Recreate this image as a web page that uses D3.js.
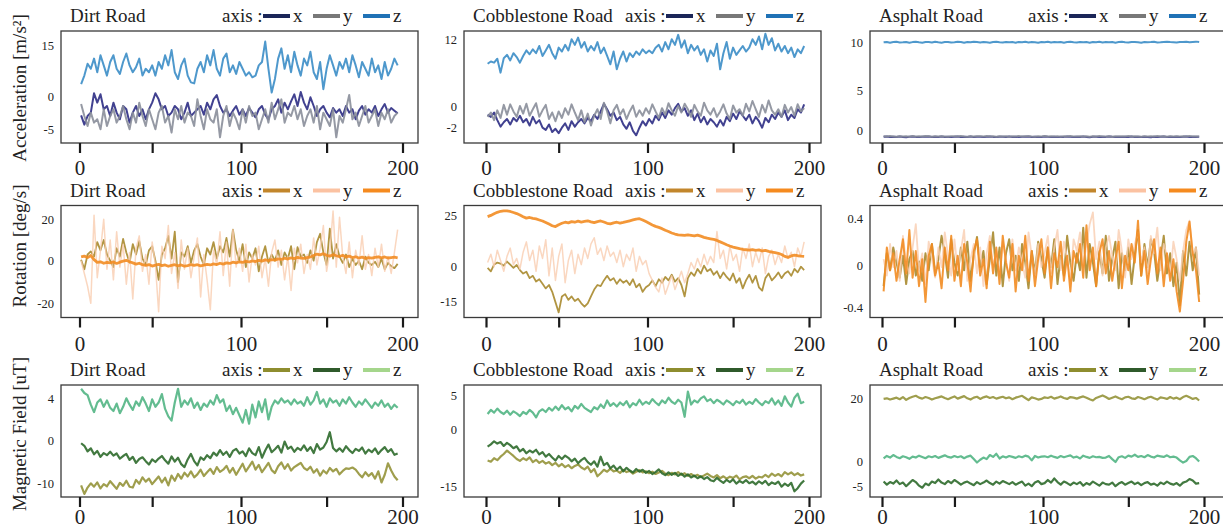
<!DOCTYPE html>
<html>
<head>
<meta charset="utf-8">
<script src="https://cdn.jsdelivr.net/npm/d3@7"></script>
<style>
  body { margin: 0; background: #fff; }
  svg text { font-family: "Liberation Serif", "DejaVu Serif", serif; fill: #222; }
</style>
</head>
<body>
<svg id="chart" width="1223" height="529"></svg>
<script>
// ---- labels ----
const roads = ["Dirt Road", "Cobblestone Road", "Asphalt Road"];
const quantities = ["Acceleration [m/s²]", "Rotation [deg/s]", "Magnetic Field [uT]"];
const axisNames = ["x", "y", "z"];
const xTickValues = [0, 45, 100, 153, 200];
const xTickLabels = ["0", "", "100", "", "200"];

// y tick labels of each panel (row by row)
const accDirtTicks = [15, 0, -5];
const accCobbleTicks = [12, 0, -2];
const accAsphaltTicks = [10, 5, 0];
const rotDirtTicks = [20, 0, -20];
const rotCobbleTicks = [25, 0, -15];
const rotAsphaltTicks = [0.4, 0, -0.4];
const magDirtTicks = [4, 0, -10];
const magCobbleTicks = [5, 0, -15];
const magAsphaltTicks = [20, 0, -5];

// ---- sensor readings, every second sample (samples 1, 3, ..., 197) ----
const accDirtX = [
-2.9,-4.3,-3,-2.5,0.8,-1,0.5,-2,-1.5,-3,
-1,-2.5,-3.5,-1.5,-2,-4,-2.5,-1.5,-3,-2,
-3.5,-2,-1,0.8,-0.5,-2,-1.5,-3,-2.5,-1.5,
-2,-3.5,-2.5,-1,-3,-2.5,-2,-1.5,-2.8,-1,
-2,-0.5,0.3,-1.5,-2.5,-2,-3,-2.2,-1.5,-2.8,
-2,-3,-1.8,-2.5,-3.2,-2,-1.5,-2.8,-3.5,-2,
-1.5,-0.5,-2.5,-1,-2,-0.8,0.5,-1.5,1.2,-1,
-2,-0.2,-1.5,-3,-2,-1.5,-2.5,-3.2,-1.8,-2.5,
-2,-3,-1.5,-2.5,-2,-3.5,-2.2,-1.5,-2.8,-2,
-2.5,-1.5,-3,-2,-1.2,-2.5,-1.8,-2.2,-2.6];
const accDirtY = [
-1.2,-3,-4.5,-2.5,-4,-3.5,-5,-2,-4.5,-3,
-2,-4,-3,-1.5,-3.5,-5,-2.5,-4,-1,-3,
-4.5,-2,-3.5,-5,-2.5,-1.5,-4,-3,-5.5,-2,
-3.5,-1.5,-4,-2.5,-3,-4.5,-0.5,-3,-5,-2,
-3.5,-4,-2,-6.2,-3,-1.5,-4.5,-2.5,-3.5,-5,
-2,-4,-1.5,-3,-2.5,-5,-3.5,-2,-4,-1,
-3.5,-2,-0.5,-4,-2.5,-3,-1.5,-3.5,-2,-4.5,
-3,-2,-4,-1.5,-5,-2.5,-3.5,-4.5,-2,-6.2,
-3,-4,-2,0.3,-3.5,-2.5,-4.5,-3,-1.5,-4,
-3,-2,-4.5,-2.5,-3.5,-2,-4,-3,-2.5];
const accDirtZ = [
3.5,6,9.5,8,11,7,12,9,6,10,
12,8,6.5,10,12.5,9,7,8.5,11,6,
8,7,9,6,10,8,12,9,13.5,7,
5,9,11,6,4,3.7,8,10,7,12,
9,13.5,8,6,11,12.5,7,9,6.5,10,
8,6,7,5.5,6,9,10,16,8,1,
5,11,14,8,12,7,13,9,6,11,
9,13,7,5,10,2,8,12,9,6,
10,8,11,7,12,9,5.5,10,8,6,
11,7,9,5,10,6,8,11,9];

const accCobbleX = [
-0.8,-1,-0.6,-1.3,-1.9,-1.5,-1.2,-1.7,-1.1,-1.4,
-0.9,-1.5,-1.2,-1.8,-1,-1.6,-1.3,-2,-2.2,-1.7,
-2.4,-2.1,-2.5,-2,-1.6,-2.2,-1.4,-1.9,-1.5,-1.2,
-1.6,-1.1,-1.4,-0.8,-1.2,-0.5,0.4,-0.3,-0.9,-0.6,
-1.3,-1,-1.7,-2.1,-1.5,-2.3,-2.7,-2,-1.4,-1.8,
-1.2,-1.6,-0.9,-1.3,-0.6,-1.1,-0.4,-0.8,-0.2,0.4,
-0.5,-0.2,-0.9,-0.4,-1.3,-0.7,-1.5,-1,-1.7,-1.2,
-1.5,-1.9,-1.3,-1.8,-1,-1.4,-0.7,-1.2,-0.5,-0.9,
-1.3,-0.8,-1.6,-1,-1.4,-2,-1.1,-1.5,-0.8,-1.2,
-0.6,-1,-0.4,-1.3,-0.8,-1.1,-0.3,-0.6,0.3];
const accCobbleY = [
-1,-0.6,-1.3,-0.4,-1.1,0.2,-0.8,0.3,-0.5,-1,
0,-0.7,0.4,-0.9,-0.3,0.5,-1,-0.4,0.2,-1.2,
-0.6,-1.4,-0.5,-1.1,-0.2,-0.8,0.3,-0.6,-1.3,-0.4,
-1.5,-0.7,-1.8,-0.9,-0.3,-1.2,0.6,-0.5,-1.6,-0.4,
0.2,-0.8,-0.3,-1.2,-0.5,0.1,-1,-0.4,-0.9,-0.2,
-0.7,0.3,-0.5,-1.1,-0.2,-0.8,0.5,-0.4,-0.9,0,
-0.6,0.4,-0.3,-1,0.2,-0.5,-0.9,0.6,-0.4,-0.8,
-0.2,-1,-0.5,0.3,-0.7,-1.2,0.1,-0.6,-0.3,-0.9,
0.4,-0.5,0.9,-0.3,-1,0.2,-0.6,1,-0.4,-0.8,
-0.3,-1,0.2,-0.6,-0.1,-0.9,0.3,-0.5,-0.2];
const accCobbleZ = [
7.6,8,7.8,8.5,6,8.6,9.2,8.2,9.5,8.8,
7.8,9,10,9.3,10.2,9.5,10.8,9,10,11,
9.5,8.5,10.5,9.8,11,10,12,11,12.3,10.5,
11.5,9.8,10.8,10,11.5,9.5,10.5,9,7.5,9.8,
6.6,8.5,9.8,8,9.5,8.8,9.8,9.2,10.2,9.5,
10,9.5,10.5,11,9.8,11.5,10.2,12,11,12.8,
10.5,11.8,9.5,11,10,10.8,9.2,10.2,8,10,
9,11.2,6.6,9.5,11.5,8.5,10.5,9.2,10,10.8,
9.8,10.5,12,11,12.5,10.2,13,11,12.2,10,
11.2,9.8,10.8,9.5,10.5,8.8,10.2,9.5,10.8];

const accAsphaltX = [
-0.85,-0.8,-0.88,-0.83,-0.87,-0.82,-0.86,-0.9,-0.84,-0.81,
-0.86,-0.89,-0.83,-0.85,-0.8,-0.87,-0.84,-0.88,-0.82,-0.86,
-0.83,-0.87,-0.85,-0.81,-0.88,-0.84,-0.86,-0.82,-0.89,-0.85,
-0.83,-0.87,-0.84,-0.8,-0.86,-0.88,-0.83,-0.85,-0.87,-0.82,
-0.86,-0.84,-0.89,-0.83,-0.85,-0.81,-0.87,-0.84,-0.88,-0.86,
-0.82,-0.85,-0.87,-0.83,-0.89,-0.84,-0.86,-0.81,-0.85,-0.88,
-0.84,-0.87,-0.82,-0.86,-0.9,-0.85,-0.83,-0.88,-0.84,-0.86,
-0.81,-0.85,-0.88,-0.83,-0.87,-0.84,-0.86,-0.82,-0.89,-0.85,
-0.87,-0.83,-0.86,-0.9,-0.84,-0.88,-0.85,-0.82,-0.87,-0.84,
-0.86,-0.83,-0.88,-0.85,-0.81,-0.87,-0.84,-0.86,-0.85];
const accAsphaltY = [
-0.78,-0.82,-0.76,-0.8,-0.84,-0.77,-0.81,-0.79,-0.83,-0.76,
-0.8,-0.78,-0.82,-0.75,-0.79,-0.83,-0.77,-0.81,-0.78,-0.8,
-0.84,-0.77,-0.79,-0.82,-0.76,-0.8,-0.83,-0.78,-0.81,-0.77,
-0.79,-0.82,-0.76,-0.8,-0.78,-0.83,-0.77,-0.81,-0.79,-0.84,
-0.78,-0.8,-0.76,-0.82,-0.79,-0.77,-0.81,-0.83,-0.78,-0.8,
-0.76,-0.82,-0.79,-0.8,-0.77,-0.83,-0.78,-0.81,-0.76,-0.8,
-0.82,-0.78,-0.8,-0.77,-0.83,-0.79,-0.81,-0.76,-0.8,-0.82,
-0.78,-0.84,-0.77,-0.8,-0.79,-0.82,-0.76,-0.81,-0.78,-0.8,
-0.83,-0.77,-0.8,-0.78,-0.82,-0.76,-0.81,-0.79,-0.84,-0.78,
-0.8,-0.77,-0.82,-0.79,-0.81,-0.76,-0.8,-0.78,-0.8];
const accAsphaltZ = [
10,10.04,9.96,10.02,10.05,9.98,10,10.04,9.95,10.02,
10.05,10,9.96,10.04,10.02,9.98,10.05,10,9.96,10.02,
10.04,9.98,10,10.05,10.02,9.96,10.04,10,10.06,10.02,
9.98,10.04,10,9.96,10.02,10.05,10,9.98,10.04,10,
10.02,9.96,10.04,10,10.05,9.98,10.02,10,9.96,10.04,
10,10.05,9.98,10.02,10,10.04,9.96,10.02,10.05,10,
9.98,10.04,10,10.02,9.96,10.04,10,10.05,9.98,10.02,
10,10.04,9.96,10.02,10.05,10,9.98,10.04,10.02,10,
9.96,10.04,10,10.02,10.05,9.98,10,10.04,10.06,10.02,
10,9.98,10.04,10.02,10.05,10,10.04,10.07,10.02];

const rotDirtX = [
0.5,-4,3,4.5,2,9,5,10,3,0,
-3,6,2,10.5,4,-1,8,3,9.5,1,
-2,5,7,0,-9,3,6,12,1,14,
-10,4,2,7,-1,5,8,2,-2,6,
3,9,1,7,4,11,2,15,5,0,
8,-3,4,1,6,-5,2,7,-1,3,
0,5,-2,4,1,7,-4,6.5,2,3,
-1,5,0,9,13,4,-2,15.5,1,8,
2,-1,3,-3,1,-2,0,-4,2,-1,
-2,-0.5,-3,1,-4,-1,-2.5,-3.5,-1.5];
const rotDirtY = [
0,-6,-12,-20,22,-8,5,20,-4,10,
-9,14,-3,8,-11,4,-18,6,12,-5,
3,-11,9,-2,-24,7,1,17,-6,4,
-13,10,-4,6,-8,2,11,-17,3,-9,
-23,5,-2,14,-7,9,-12,15,-3,6,
-5,8,-10,3,-2,7,-8,1,-12,4,
10,-3,5,-9,2,-14,6,-1,8,-6,
3,-4,11,-2,6,17,-5,4,24,-3,
21,2,-6,9,-8,5,-2,12,-4,3,
-7,6,-3,8,-5,2,-6,4,15];
const rotDirtZ = [
1.8,2.2,1.5,2.5,0.5,-0.8,-0.5,-1.2,-0.8,-1,
-0.6,-1.3,-0.7,-0.2,0.2,-0.5,-1,-1.6,-1.2,-1.9,
-2.2,-1.8,-2.5,-2.1,-1.7,-2.3,-2,-2.6,-2.2,-1.9,
-2.4,-2,-2.6,-2.3,-1.8,-2.2,-1.9,-2.4,-2.1,-1.7,
-2,-1.5,-1.8,-1.2,-1.6,-1,-1.3,-0.7,-1,-0.5,
-0.8,-0.3,-0.6,-0.1,-0.4,0.2,-0.2,0.4,0,0.5,
0.3,0.9,0.6,1.2,0.8,1.4,1,1.6,1.3,1.1,
1.5,1.8,2.5,3.2,2.8,3.4,2.6,2.2,2.9,2.4,
2,2.6,1.8,2.2,1.5,1.9,1.3,1.7,1.1,1.5,
1.2,1.6,1.9,1.4,1.8,1.3,1.5,1.7,1.4];

const rotCobbleX = [
-0.5,-2,1,2,1.5,0.5,2.5,1,-0.5,0.8,
-1.5,-3,-2.2,-5,-4,-6.5,-5.5,-7.5,-9.5,-8,
-11,-15.5,-20,-13,-12,-14.5,-13,-15,-14,-16,
-17.5,-16,-13,-10,-8,-8.5,-6,-4,-6,-5,
-7.5,-5.5,-7,-6,-8,-5.5,-9,-7.5,-11,-9,
-8,-6,-8.5,-5.5,-7,-4.5,-6,-3.5,-6.5,-5,
-8,-13,-5,-2.5,-4,-1,-3,0.5,-2,-1,
-3.5,-2,-5,-2.5,-4.5,-6,-3,-7,-5,-9.5,
-6,-3.5,-7,-4,-9,-10.5,-5,-3,-6,-4.5,
-2.5,-5,-3,-2,-4,-1,-2.5,0,-1.5];
const rotCobbleY = [
2,6,0,8,3,-2,5,9,1,4,
-1,7,12,3,8,-2,10,4,13,-4,
9,-6,5,11,-7,3,8,-3,6,1,
9,4,11,14,6,9,3,10,5,7,
2,8,0,6,3,9,-2,5,1,3,
-3,-6,-9,-11,-5,-12,-8,-4,-10,-6,
-2,-7,-3,2,-1,4,0,6,1,5,
2,17,4,8,-1,10,3,6,-2,9,
4,11,0,7,2,9,-3,5,8,1,
6,2,10,4,7,0,9,5,12];
const rotCobbleZ = [
24.2,24.8,25.6,26.3,26.8,27,27,26.7,26.2,25.7,
25,24.2,23.5,23.8,23.4,23.1,22.6,22.1,21.4,20.6,
19.8,19.4,20.3,21,21.5,21.2,21.8,21.5,22,21.6,
21.9,22.2,21.7,21.3,21.8,22.1,21.6,21,20.7,21.2,
21.5,21.1,21.4,21.8,22.2,22.6,23,23.2,22.6,21.8,
21,20.2,19.5,19,18.4,17.6,17,16.3,15.8,15.4,
15.3,15.1,15.4,15.2,14.9,15.3,14.8,14.2,13.8,13.5,
13.2,12.7,12,11.3,10.6,10,9.5,9.1,8.7,8.4,
8.2,8,8.3,7.9,8.1,7.6,7.9,7.4,7.1,6.8,
6.5,5.9,5,4.5,5.2,5.6,5.3,5.1,5];

const rotAsphaltX = [
-0.2,0.1,-0.05,0.15,0.02,-0.12,0.08,-0.18,0.05,0.12,
-0.1,0.03,-0.15,0.1,-0.05,0.18,-0.08,0.05,0.25,0.1,
-0.12,0.22,0.02,-0.1,0.15,-0.05,0.2,-0.15,0.08,0.24,
-0.02,0.12,-0.18,0.05,0.28,-0.1,0.15,-0.2,0.1,0.22,
-0.05,0.08,-0.15,0.18,0.02,-0.22,0.12,-0.08,0.2,0.05,
-0.12,0.15,-0.02,0.22,-0.18,0.08,-0.1,0.25,0.02,-0.15,
0.1,-0.05,0.32,-0.12,0.18,0.02,-0.2,0.12,-0.08,0.25,
-0.15,0.05,0.2,-0.22,0.1,-0.05,0.15,-0.18,0.08,0.3,
-0.1,0.18,-0.02,0.22,0.12,-0.15,0.05,0.25,-0.08,0.1,
-0.2,0.02,-0.38,0.12,-0.1,0.2,-0.05,0.15,-0.28];
const rotAsphaltY = [
0.05,-0.1,0.18,-0.02,0.12,-0.15,0.25,0.02,-0.08,0.15,
0.35,-0.05,0.1,-0.18,0.2,0.05,-0.12,0.15,-0.02,0.28,
0.08,-0.1,0.22,-0.05,0.12,0.3,-0.15,0.05,0.18,-0.08,
0.15,-0.2,0.1,0.25,-0.02,0.12,-0.1,0.2,0.05,-0.15,
0.22,-0.05,0.15,0.02,-0.12,0.28,0.08,-0.1,0.18,-0.02,
0.1,0.25,-0.08,0.15,0.3,-0.05,0.2,0.05,-0.15,0.22,
0.12,0.28,-0.02,0.18,0.35,0.45,0.05,0.2,-0.1,0.15,
0.25,0.08,-0.05,0.3,0.12,-0.12,0.22,0.05,0.18,0.28,
0.02,0.15,-0.08,0.25,0.1,0.32,-0.05,0.18,0.08,-0.12,
0.2,0.05,-0.15,0.12,0.3,0.38,0.08,0.15,-0.1];
const rotAsphaltZ = [
-0.25,0.15,-0.05,0.1,-0.15,0.05,0.22,-0.08,0.3,-0.12,
0.12,-0.2,0.05,-0.35,0.08,0.18,-0.1,0.02,-0.22,0.15,
-0.05,0.25,-0.15,0.08,-0.2,0.18,0.02,-0.25,0.12,0.22,
-0.1,0.05,-0.22,0.2,-0.08,0.15,-0.18,0.25,0.02,-0.12,
0.18,-0.25,0.08,-0.05,0.25,-0.15,0.12,-0.2,0.05,0.22,
-0.08,0.15,-0.22,0.1,-0.02,0.2,-0.15,0.08,-0.25,0.12,
0.02,0.18,-0.12,0.34,-0.05,0.15,-0.2,0.1,0.22,-0.08,
0.12,-0.15,0.05,0.2,-0.22,0.08,-0.05,0.18,0.02,0.38,
-0.1,0.12,-0.18,0.05,0.22,-0.08,0.15,-0.2,0.1,-0.15,
0.05,-0.25,-0.44,-0.15,0.2,0.37,0.1,-0.05,-0.35];

const magDirtX = [
-10.5,-12.5,-11,-10,-10.8,-9.8,-11.2,-10.2,-10.7,-9.5,
-10.4,-11.3,-9.9,-10.6,-9.4,-10.8,-11,-9.2,-10.1,-8.6,
-9.6,-8.9,-10.2,-9.3,-8.4,-9.8,-8.7,-10.5,-8.2,-9.4,
-7.8,-8.9,-7.5,-8.4,-7.2,-8.6,-7.9,-6.8,-8.3,-7.4,
-6.6,-7.8,-6.2,-7.3,-6.8,-5.9,-7.5,-6.4,-8,-6.7,
-5.4,-7.2,-6.1,-4.9,-6.8,-5.7,-7.4,-6.3,-5.2,-6.9,
-7.6,-6,-5.1,-6.6,-5.5,-7,-6.2,-5.7,-5.2,-6.4,
-6.9,-6.1,-7.5,-6.7,-8.2,-7,-7.7,-6.4,-7.2,-6.6,
-7.9,-7.1,-6.5,-6.6,-6.3,-6.8,-7.8,-8.6,-7.4,-8.3,
-7.6,-8.9,-7.2,-9.8,-8,-5.3,-7,-8.4,-9.3];
const magDirtY = [
-0.6,-1.2,-2.5,-1.8,-3.2,-2.4,-3.8,-2.9,-3.4,-2.6,
-3.5,-3,-4.2,-3.6,-3.1,-4.5,-3.8,-5.2,-4.3,-3.9,
-4.8,-5.6,-4.4,-5,-4.2,-3.6,-4.6,-5.4,-3.7,-4.9,
-4,-5.5,-6.2,-4.4,-3.1,-4.8,-5.8,-3.9,-4.5,-3.4,
-4.1,-2.8,-3.5,-2.2,-3.3,-2.6,-3.8,-2.4,-1.9,-3,
-2.5,-3.6,-1.8,-2.9,-3.4,-1.5,-4,-2.3,-0.9,-2.7,
-2,-1.2,-2.8,-0.2,-1.9,-1.4,-2.6,-1.7,-2.2,-1.1,
-2.4,-1.5,-2.9,-0.8,-2.1,-1.6,-0.3,0.8,-1.7,-2.5,
-1.8,-2.6,-1.3,-2.2,-2.9,-1.9,-2.4,-1.6,-3,-2.1,
-2.7,-1.8,-3.1,-2.2,-1.5,-2.6,-2,-3.3,-3];
const magDirtZ = [
4.9,4.5,4.3,3.4,2.7,3.6,3.9,3.2,3.8,3.1,
2.8,3.5,2.6,3.2,4,3.4,2.9,3.7,3.3,4.1,
3.5,2.8,3.9,3.2,3.6,4.4,3,2.3,1.9,3.6,
4.9,3.2,3.8,3.4,4,3.1,3.6,2.9,3.5,3.2,
3.8,3.4,4.3,3.6,3.9,2.8,3.3,2.5,3.1,2.4,
1.7,2.9,1.6,3.4,2.2,3.7,2.7,3.9,2,3.2,
3.8,3.5,4,3.6,3.8,3.4,3.9,3.5,3.7,3.3,
4.1,3.4,3.8,4.6,3.5,3.9,3.2,4,3.6,3.8,
3.3,3.9,3.5,4.1,3.6,3.2,3.7,3.4,3.9,3.5,
3.1,3.6,3.3,3.8,3.2,3.5,3,3.4,3.1];

const magCobbleX = [
-8.2,-8.5,-7.6,-8.1,-7.2,-6.5,-5.6,-6.3,-7,-7.8,
-8.3,-7.6,-8.1,-7.4,-8.6,-8,-8.8,-8.3,-9,-8.6,
-9.4,-8.8,-9.7,-9.1,-9.9,-9.4,-10.2,-9.6,-9.2,-10,
-10.5,-9.8,-11.2,-10.4,-12.3,-11.5,-10.6,-11.1,-10.3,-11,
-10.8,-11.4,-10.6,-11.2,-10.9,-11.6,-11.1,-10.7,-11.3,-11,
-11.5,-11.1,-11.7,-11.3,-10.9,-11.6,-12,-11.4,-11.8,-11.2,
-11.9,-11.5,-12.2,-11.7,-12.3,-11.9,-12.5,-12.1,-11.6,-12.2,
-12.6,-12,-12.8,-12.3,-12.9,-12.4,-12.7,-12.1,-13.1,-12.5,
-12.3,-12.8,-12.2,-12.9,-12.4,-12.6,-11.9,-12.5,-11.6,-12.2,
-11.7,-12.3,-11.2,-11.8,-11.3,-12,-11.5,-12.1,-11.8];
const magCobbleY = [
-4.6,-4,-3.2,-3.8,-3.4,-4.4,-3.6,-4.2,-5,-4.5,
-5.8,-5.2,-6.3,-5.6,-6.1,-5.4,-6.6,-6,-7.2,-6.5,
-7.4,-8.2,-7,-7.8,-6.9,-7.5,-8.4,-7.7,-8.9,-8.1,
-7.5,-8.6,-9.3,-8.4,-9.8,-7.2,-9.4,-8.8,-10.2,-9.5,
-10.6,-9.8,-11,-10.1,-10.8,-11.3,-10.4,-11.1,-10.6,-11.4,
-10.9,-11.7,-11.2,-10.5,-11.5,-12,-11.3,-11.9,-11.4,-12.2,
-11.6,-12.4,-11.8,-12.6,-12.1,-12.8,-12.3,-13,-12.5,-13.3,
-13.6,-12.7,-13.4,-14,-13.2,-13.8,-13.1,-14.2,-13.5,-14,
-13.3,-14.1,-13.7,-14.4,-13.6,-14.2,-13.5,-14.6,-13.9,-14.3,
-13.7,-15,-14.2,-14.8,-14,-16.2,-15.4,-14.2,-13.4];
const magCobbleZ = [
2.2,2.8,2.4,3,2.5,2.2,2.7,2.1,2.6,2.3,
1.9,2.5,2.2,2.8,2.4,1.7,2.6,2.9,2.5,3.1,
2.7,3.3,2.8,3.5,2.9,3.2,2.6,3.4,3,3.7,
3.1,2.8,2.5,3.2,2.9,3.6,3.1,4.2,3.4,3.8,
3.3,3.9,3.5,4.1,3.2,3.8,3.5,4.3,3.6,4,
3.7,4.4,3.9,3.5,4.2,3.8,4.6,4,3.7,4.3,
3.9,1.8,5.5,3.6,4.2,3.9,4.5,4.8,4.1,4.4,
3.8,4.3,4,3.6,4.2,3.9,3.5,4.1,3.8,4.3,
3.6,4,3.7,4.4,3.9,3.5,4.1,3.8,4.5,3.6,
4.2,3.4,4.8,3.9,3.3,4.6,5.2,3.8,4];

const magAsphaltX = [
19.8,20,19.6,19.9,20.2,19.7,20.4,19.5,20.1,20.5,
20.8,20.2,19.9,20.4,20.1,19.6,20,20.3,20.6,20.1,
19.7,20.2,20.6,19.9,20.3,20.7,20,19.6,20.2,20.5,
19.8,20.3,20.6,20.1,20.4,19.9,20.2,20.5,20,20.3,
19.7,20.2,20.5,20.8,20.1,19.4,20.3,20,19.6,19.8,
20.3,20.1,20.5,19.9,20.2,20.6,20.1,19.8,20.4,20.2,
19.9,20.3,20.6,20.2,19.7,19.3,20.1,20.5,20.9,20.4,
19.8,20.2,20.6,20.1,19.7,20.3,20.5,20,19.8,20.4,
20.1,19.7,20.2,20.5,20,19.6,20.3,20.1,19.8,20.4,
19.9,20.2,19.7,20.4,20.8,20.3,19.8,20.1,19.3];
const magAsphaltY = [
-4,-4.6,-4.1,-4.4,-3.8,-4.5,-4.2,-4.9,-4.3,-3.7,
-4.1,-4.8,-5.2,-4.4,-4.7,-4,-4.3,-3.6,-4.2,-4.5,
-3.9,-4.3,-3.7,-4.1,-4.6,-4.2,-4,-4.4,-4.7,-4.1,
-4.5,-4.2,-3.8,-4.3,-4.6,-4,-4.4,-3.9,-4.2,-4.5,
-4.1,-4.6,-4.3,-4,-4.8,-4.4,-4.9,-4.2,-3.9,-4.5,
-4.3,-3.7,-4.2,-3.4,-4.1,-4.6,-4,-4.3,-4.7,-4.2,
-4.5,-4.1,-4.8,-4.3,-4.6,-4,-4.4,-4.8,-4.2,-4.5,
-4.6,-4.2,-4.9,-4.4,-4.1,-4.6,-4.3,-4,-4.5,-4.2,
-4.7,-4.3,-4.1,-4.6,-4.4,-4.8,-4.2,-4.5,-4,-4.4,
-4.6,-4.3,-4.8,-4.2,-4,-3.5,-3.8,-4.4,-4.3];
const magAsphaltZ = [
0.8,1.6,1.1,1.9,1.3,0.9,1.5,1.2,0.7,1.4,
1.1,1.7,1.3,0.9,1.5,1.2,1.6,1,1.4,1.8,
1.3,1.1,1.6,1.2,1.5,0.9,1.4,1.7,0.6,-0.3,
0.4,1.1,0.6,1.9,1.3,2.3,0.8,1.5,1.1,1.6,
1.3,1,1.5,1.2,1.7,1.4,0.2,1.6,1.1,1.4,
1.5,1.2,1.7,1.3,1,1.6,1.2,1.5,1.8,1.1,
1.4,0.8,1.7,1.3,1,1.5,1.2,1.3,1,1.1,
1.6,0.6,-0.2,1.2,1.5,1,1.7,1.4,2,1.3,
1.6,1.2,1.9,1.4,1.1,1.7,1.5,1.3,1.8,1.2,
1.4,1.1,0.2,-0.3,0,1.3,1.6,0.9,-0.1];

// ---- series colours per sensor row ----
const legendColors = [
  ["#1b2658", "#787878", "#1f72b6"],
  ["#c2862c", "#fbc2a2", "#f58a1f"],
  ["#8e8d2f", "#2f5a2b", "#a5d68c"]
];
const lineColors = [
  ["#2c2c84", "#8a8e9a", "#3b8dc7"],
  ["#a9892e", "#f9cdb0", "#f28c22"],
  ["#95933a", "#2d6a2b", "#52b584"]
];
const lineWidths = [[2, 2, 2], [1.8, 1.5, 2.8], [2.2, 2.2, 2.2]];

// ---- grid layout ----
const colLeft = [61, 464, 870], colRight = [418, 821, 1224];
const xStart = [79.5, 486, 882], xEnd = [402.5, 809, 1204];
const rowTop = [31, 205.5, 385], panelH = 112;
const xLabelPad = [7.5, 8.5, 2];
const yLabelCenter = [88, 246, 434];

const panels = [
  { r: 0, c: 0, ticks: accDirtTicks, at: [14, 65, 98.3], s: [accDirtX, accDirtY, accDirtZ] },
  { r: 0, c: 1, ticks: accCobbleTicks, at: [8.3, 75, 96.7], s: [accCobbleX, accCobbleY, accCobbleZ] },
  { r: 0, c: 2, ticks: accAsphaltTicks, at: [11.3, 59, 99], s: [accAsphaltX, accAsphaltY, accAsphaltZ] },
  { r: 1, c: 0, ticks: rotDirtTicks, at: [13.8, 55.2, 97.8], s: [rotDirtX, rotDirtY, rotDirtZ] },
  { r: 1, c: 1, ticks: rotCobbleTicks, at: [9.5, 61.2, 95.5], s: [rotCobbleX, rotCobbleY, rotCobbleZ] },
  { r: 1, c: 2, ticks: rotAsphaltTicks, at: [12.8, 59.5, 101.8], s: [rotAsphaltX, rotAsphaltY, rotAsphaltZ] },
  { r: 2, c: 0, ticks: magDirtTicks, at: [13.3, 55.7, 98.3], s: [magDirtX, magDirtY, magDirtZ] },
  { r: 2, c: 1, ticks: magCobbleTicks, at: [10, 44, 101.7], s: [magCobbleX, magCobbleY, magCobbleZ] },
  { r: 2, c: 2, ticks: magAsphaltTicks, at: [13.3, 76, 101.7], s: [magAsphaltX, magAsphaltY, magAsphaltZ] }
];

const svg = d3.select("#chart");
const defs = svg.append("defs");

panels.forEach((p, k) => {
  const top = rowTop[p.r], bottom = top + panelH;
  const left = colLeft[p.c], right = colRight[p.c];
  const x = d3.scaleLinear().domain([0, 200]).range([xStart[p.c], xEnd[p.c]]);
  const y = d3.scaleLinear().domain(p.ticks).range(p.at.map(v => top + v));
  const g = svg.append("g");

  defs.append("clipPath").attr("id", "clip" + k)
    .append("rect").attr("x", left).attr("y", top).attr("width", right - left).attr("height", panelH);

  // traces
  const line = d3.line().x((d, i) => x(1 + 2 * i)).y(d => y(d));
  const traces = g.append("g").attr("clip-path", `url(#clip${k})`);
  p.s.forEach((vals, j) => {
    let w = lineWidths[p.r][j];
    if (p.r === 1 && p.c === 2) w = j === 1 ? 1.8 : 2;
    traces.append("path").datum(vals)
      .attr("d", line)
      .attr("fill", "none")
      .attr("stroke", lineColors[p.r][j])
      .attr("stroke-width", w)
      .attr("stroke-linejoin", "round")
      .attr("stroke-opacity", p.r === 1 && j === 1 ? 0.8 : 0.9);
  });

  // frame
  g.append("rect").attr("x", left).attr("y", top)
    .attr("width", right - left).attr("height", panelH)
    .attr("fill", "none").attr("stroke", "#3a3a3a").attr("stroke-width", 1.3);

  // x axis
  const xa = g.append("g").attr("transform", `translate(0,${bottom})`)
    .call(d3.axisBottom(x).tickValues(xTickValues)
      .tickFormat((d, i) => xTickLabels[i]).tickSize(10).tickPadding(xLabelPad[p.r]));
  xa.select(".domain").remove();
  xa.attr("font-family", null);
  xa.selectAll(".tick line").attr("stroke", "#1a1a1a").attr("stroke-width", 2.2);
  xa.selectAll(".tick text").attr("font-size", 21).attr("fill", "#222");

  // y tick labels
  const ya = g.append("g").attr("transform", `translate(${left - 7},0)`)
    .call(d3.axisLeft(y).tickValues(p.ticks).tickFormat(d => String(d)).tickSize(0).tickPadding(0));
  ya.select(".domain").remove();
  ya.attr("font-family", null);
  ya.selectAll(".tick text").attr("font-size", 12.5).attr("fill", "#222");

  // title and legend
  const base = top - 9;
  g.append("text").attr("x", left + 9).attr("y", base).attr("font-size", 19).text(roads[p.c]);
  const L = right - 196;
  g.append("text").attr("x", L).attr("y", base).attr("font-size", 19).text("axis :");
  axisNames.forEach((nm, j) => {
    g.append("line")
      .attr("x1", L + 41 + 50 * j).attr("x2", L + 68 + 50 * j)
      .attr("y1", base - 6).attr("y2", base - 6)
      .attr("stroke", legendColors[p.r][j]).attr("stroke-width", 4);
    g.append("text").attr("x", L + 71 + 50 * j).attr("y", base).attr("font-size", 19).text(nm);
  });
});

// row titles
quantities.forEach((q, r) => {
  svg.append("text")
    .attr("transform", `translate(26,${yLabelCenter[r]}) rotate(-90)`)
    .attr("text-anchor", "middle").attr("font-size", 19).text(q);
});
</script>
</body>
</html>
